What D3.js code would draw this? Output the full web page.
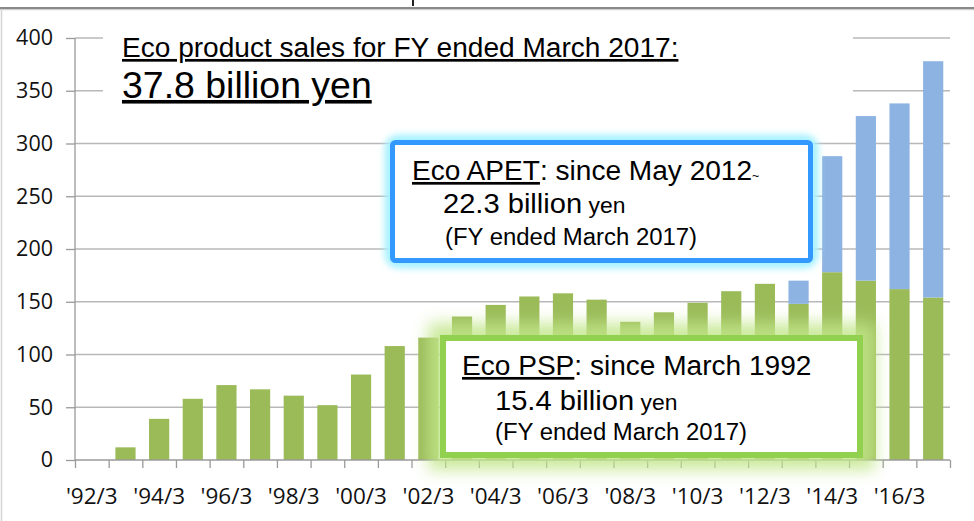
<!doctype html>
<html>

<head>
    <meta charset="utf-8">
    <title>Eco product sales</title>
    <style>
        body { margin: 0; background: #fff; }
        .tick-label text { font-family: "Open Sans", sans-serif; fill: #111; }
    </style>
</head>

<body>
    <svg width="974" height="521"></svg>
    <script src="https://cdn.jsdelivr.net/npm/d3@7"></script>
    <script>
    // Fiscal years (ending March), unit: 100 million yen
    var years = ["'92/3", "'93/3", "'94/3", "'95/3", "'96/3", "'97/3", "'98/3", "'99/3", "'00/3", "'01/3",
        "'02/3", "'03/3", "'04/3", "'05/3", "'06/3", "'07/3", "'08/3", "'09/3", "'10/3", "'11/3",
        "'12/3", "'13/3", "'14/3", "'15/3", "'16/3", "'17/3"];
    var pspValues = [0, 12, 39, 58, 71, 67, 61, 52, 81, 108, 116, 136, 147, 155, 158, 152, 131, 140, 149, 160,
        167, 148, 178, 170, 162, 154];
    var apetValues = [0, 0, 0, 0, 0, 0, 0, 0, 0, 0, 0, 0, 0, 0, 0, 0, 0, 0, 0, 0,
        0, 22, 110, 156, 176, 224];
    var yTicks = [0, 50, 100, 150, 200, 250, 300, 350, 400];

    var width = 974;
    var height = 521;
    var plotLeft = 75, plotRight = 950, plotTop = 38, plotBottom = 460;
    var sx = 1.04; // text is drawn a bit wide in the original

    var svg = d3.select("svg");
    svg.append("rect").attr("width", width).attr("height", height).attr("fill", "#fff");

    var x = d3.scaleBand()
        .domain(years)
        .range([plotLeft, plotRight])
        .paddingInner(0.4)
        .paddingOuter(0.2);

    var y = d3.scaleLinear()
        .domain([0, 400])
        .range([plotBottom, plotTop]);

    // boundaries between categories for the x ticks
    var xEdge = d3.scaleLinear().domain([0, years.length]).range([plotLeft, plotRight]);

    // horizontal grid lines
    svg.append("g")
        .selectAll("line")
        .data(yTicks.slice(1))
        .enter().append("line")
        .attr("x1", plotLeft).attr("x2", plotRight)
        .attr("y1", function(d) { return y(d); })
        .attr("y2", function(d) { return y(d); })
        .attr("stroke", "#b8b8b8")
        .attr("stroke-width", 1.3);

    // stacked bars
    var stackData = years.map(function(c, i) {
        return { year: c, psp: pspValues[i], apet: apetValues[i] };
    });
    var series = d3.stack().keys(["psp", "apet"])(stackData);
    var colors = { psp: "#9bbb59", apet: "#8db3e2" };

    svg.append("g")
        .selectAll("g")
        .data(series)
        .enter().append("g")
        .attr("fill", function(s) { return colors[s.key]; })
        .selectAll("rect")
        .data(function(s) { return s; })
        .enter().append("rect")
        .attr("x", function(d) { return x(d.data.year); })
        .attr("width", x.bandwidth())
        .attr("y", function(d) { return y(d[1]); })
        .attr("height", function(d) { return y(d[0]) - y(d[1]); });

    // y axis
    var yAxis = svg.append("g")
        .attr("class", "tick-label")
        .attr("transform", "translate(" + plotLeft + ",0)")
        .call(d3.axisLeft(y).tickValues(yTicks).tickSize(9).tickPadding(13));
    yAxis.selectAll("line, path").attr("stroke", "#9a9a9a").attr("stroke-width", 1.3);
    yAxis.selectAll("text").style("font-size", "21.5px");
    yAxis.select(".domain").attr("d", "M0," + plotBottom + "V" + plotTop);

    // x axis: ticks at category edges
    var xTicks = svg.append("g")
        .attr("transform", "translate(0," + plotBottom + ")")
        .call(d3.axisBottom(xEdge).tickValues(d3.range(years.length + 1)).tickSize(8).tickFormat(""));
    xTicks.selectAll("line, path").attr("stroke", "#9a9a9a").attr("stroke-width", 1.3);
    xTicks.select(".domain").attr("d", "M" + plotLeft + ",0H" + plotRight);

    // x labels: every other year
    var xLabels = svg.append("g")
        .attr("class", "tick-label")
        .attr("transform", "translate(0," + plotBottom + ")")
        .call(d3.axisBottom(x).tickSize(0).tickFormat(function(d, i) { return i % 2 === 0 ? d : ""; }));
    xLabels.select(".domain").remove();
    xLabels.selectAll("text").attr("y", 44).attr("dy", 0).style("font-size", "22.5px");

    // frame bits
    svg.append("line").attr("x1", 0).attr("x2", width).attr("y1", 8).attr("y2", 8)
        .attr("stroke", "#8a8a8a").attr("stroke-width", 2);
    svg.append("line").attr("x1", 0).attr("x2", width).attr("y1", 9.7).attr("y2", 9.7)
        .attr("stroke", "#c4c4c4").attr("stroke-width", 1);
    svg.append("line").attr("x1", 1.5).attr("x2", 1.5).attr("y1", 9).attr("y2", height)
        .attr("stroke", "#d4d4d4").attr("stroke-width", 1.5);
    svg.append("line").attr("x1", 413).attr("x2", 413).attr("y1", 0).attr("y2", 6)
        .attr("stroke", "#222").attr("stroke-width", 2);

    // white area behind the headline
    svg.append("rect").attr("x", 103).attr("y", 28).attr("width", 750).attr("height", 80).attr("fill", "#fff");

    // glow filters
    var defs = svg.append("defs");
    defs.append("filter").attr("id", "blurG").attr("x", "-20%").attr("y", "-50%").attr("width", "140%").attr("height", "200%")
        .append("feGaussianBlur").attr("stdDeviation", 8);
    defs.append("filter").attr("id", "blurB").attr("x", "-20%").attr("y", "-50%").attr("width", "140%").attr("height", "200%")
        .append("feGaussianBlur").attr("stdDeviation", 3);

    // APET box
    var blueBox = { x: 392.5, y: 142.5, w: 418, h: 118 };
    svg.append("rect").attr("x", blueBox.x).attr("y", blueBox.y).attr("width", blueBox.w).attr("height", blueBox.h)
        .attr("fill", "none").attr("stroke", "#a8f2ff").attr("stroke-width", 16).attr("rx", 6)
        .attr("filter", "url(#blurB)");
    svg.append("rect").attr("x", blueBox.x).attr("y", blueBox.y).attr("width", blueBox.w).attr("height", blueBox.h)
        .attr("fill", "#fff").attr("stroke", "#3399ff").attr("stroke-width", 5).attr("rx", 3);

    // PSP box
    var greenBox = { x: 443, y: 338, w: 417, h: 117 };
    svg.append("rect").attr("x", greenBox.x).attr("y", greenBox.y).attr("width", greenBox.w).attr("height", greenBox.h)
        .attr("fill", "none").attr("stroke", "#c2e68a").attr("stroke-width", 30).attr("opacity", 0.85)
        .attr("filter", "url(#blurG)");
    svg.append("rect").attr("x", greenBox.x).attr("y", greenBox.y).attr("width", greenBox.w).attr("height", greenBox.h)
        .attr("fill", "#fff").attr("stroke", "#92d050").attr("stroke-width", 6);

    // text helper: parts = [[text, size, underline], ...]
    function addText(px, py, parts) {
        var t = svg.append("text")
            .attr("transform", "translate(" + px + "," + py + ") scale(" + sx + ",1)")
            .style("font-family", "'Liberation Sans', Arial, sans-serif")
            .attr("fill", "#000");
        parts.forEach(function(p) {
            t.append("tspan")
                .style("font-size", p[1] + "px")
                .style("text-decoration", p[2] ? "underline" : "none")
                .text(p[0]);
        });
        return t;
    }

    addText(122, 57, [["Eco product sales for FY ended March 2017:", 27, true]]);
    addText(122, 98, [["37.8 billion yen", 36, true]]);

    addText(412, 180, [["Eco APET", 27, true], [": since May 2012", 27, false], ["~", 12, false]]);
    addText(443, 213, [["22.3 billion", 28, false], [" yen", 22, false]]);
    addText(445, 245, [["(FY ended March 2017)", 23, false]]);

    addText(462, 375, [["Eco PSP", 27, true], [": since March 1992", 27, false]]);
    addText(495, 410, [["15.4 billion", 28, false], [" yen", 22, false]]);
    addText(495, 440, [["(FY ended March 2017)", 23, false]]);
    </script>
</body>

</html>
